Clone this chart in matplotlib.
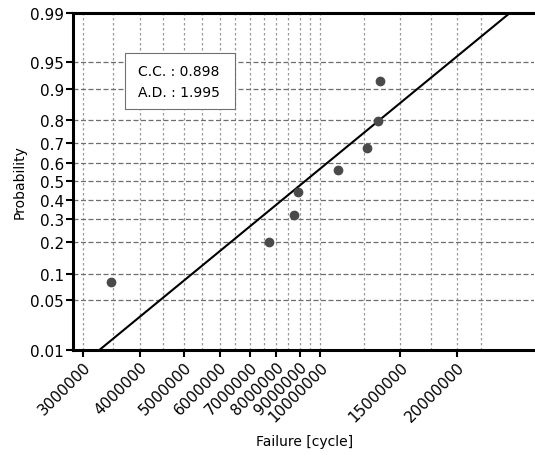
import numpy as np
import matplotlib
matplotlib.use("Agg")
import matplotlib.pyplot as plt
from matplotlib.ticker import FixedLocator, FixedFormatter, NullFormatter
from matplotlib.patches import Rectangle
from statistics import NormalDist

# ---- data ----
failure_cycles = [3.46e6, 7.71e6, 8.73e6, 8.94e6, 10.94e6, 12.66e6, 13.41e6, 13.55e6]
probability = [0.083, 0.202, 0.321, 0.440, 0.560, 0.679, 0.798, 0.917]

fit_x = [3.27e6, 26.1e6]      # fitted lognormal line end points
fit_p = [0.01, 0.99]

y_ticks = [0.01, 0.05, 0.1, 0.2, 0.3, 0.4, 0.5, 0.6, 0.7, 0.8, 0.9, 0.95, 0.99]
y_tick_labels = ["0.01", "0.05", "0.1", "0.2", "0.3", "0.4", "0.5", "0.6", "0.7", "0.8", "0.9", "0.95", "0.99"]
x_ticks = [3e6, 4e6, 5e6, 6e6, 7e6, 8e6, 9e6, 10e6, 15e6, 20e6]
x_tick_labels = ["3000000", "4000000", "5000000", "6000000", "7000000", "8000000",
                 "9000000", "10000000", "15000000", "20000000"]
x_minor_grid = [3.5e6, 4.5e6, 5.5e6, 6.5e6, 7.5e6, 8.5e6, 9.5e6, 12.5e6, 17.5e6, 22.5e6]

cc_value = 0.898
ad_value = 1.995

# ---- normal probability scale ----
_nd = NormalDist()
_ppf = np.vectorize(_nd.inv_cdf, otypes=[float])
_cdf = np.vectorize(_nd.cdf, otypes=[float])

def fwd(p):
    p = np.clip(np.asarray(p, float), 1e-9, 1 - 1e-9)
    return _ppf(p)

def inv(z):
    return _cdf(np.asarray(z, float))

plt.rcParams['font.family'] = ['DejaVu Sans']

fig = plt.figure(figsize=(5.35, 4.56), dpi=100)
ax = fig.add_axes([73 / 535, 1 - 350.7 / 456, (534 - 73) / 535, (350.7 - 14) / 456])

ax.set_xscale('log')
ax.set_yscale('function', functions=(fwd, inv))

ax.set_xlim(2.856e6, 29.5e6)
ax.set_ylim(0.01, 0.99)

# grid
for xv in x_ticks + x_minor_grid:
    ax.axvline(xv, color='#9a9a9a', lw=0.9, ls=(0, (2, 2)), zorder=1)
for yv in y_ticks:
    ax.axhline(yv, color='#6e6e6e', lw=0.9, ls=(0, (4, 2)), zorder=1)

ax.plot(fit_x, fit_p, color='black', lw=1.5, zorder=3)
ax.plot(failure_cycles, probability, 'o', color='#4a4a4a', ms=6, zorder=4)

ax.xaxis.set_major_locator(FixedLocator(x_ticks))
ax.xaxis.set_major_formatter(FixedFormatter(x_tick_labels))
ax.xaxis.set_minor_locator(FixedLocator([]))
ax.xaxis.set_minor_formatter(NullFormatter())
ax.yaxis.set_major_locator(FixedLocator(y_ticks))
ax.yaxis.set_major_formatter(FixedFormatter(y_tick_labels))
ax.yaxis.set_minor_locator(FixedLocator([]))

ax.tick_params(axis='both', direction='out', length=5, width=1.5, color='black',
               labelsize=11, pad=1.5)
plt.setp(ax.get_xticklabels(), rotation=45, ha='right', va='top', rotation_mode='anchor')

for s in ['left', 'bottom', 'top']:
    ax.spines[s].set_linewidth(2.2)
    ax.spines[s].set_color('black')
ax.spines['right'].set_visible(False)

ax.set_ylabel('Probability', fontsize=10)
ax.set_xlabel('Failure [cycle]', fontsize=10)
ax.yaxis.set_label_coords(-0.10, 0.5)
ax.xaxis.set_label_coords(0.503, -0.250)

# statistics box
ax.add_patch(Rectangle((0.1128, 0.7148), 0.2386, 0.1662, transform=ax.transAxes,
                       facecolor='white', edgecolor='#707070', lw=0.8, zorder=5))
ax.text(0.141, 0.8287, f"C.C. : {cc_value:.3f}", transform=ax.transAxes,
        fontsize=10, va='center', ha='left', zorder=6)
ax.text(0.141, 0.7663, f"A.D. : {ad_value:.3f}", transform=ax.transAxes,
        fontsize=10, va='center', ha='left', zorder=6)

fig.savefig('out.png', dpi=100)
